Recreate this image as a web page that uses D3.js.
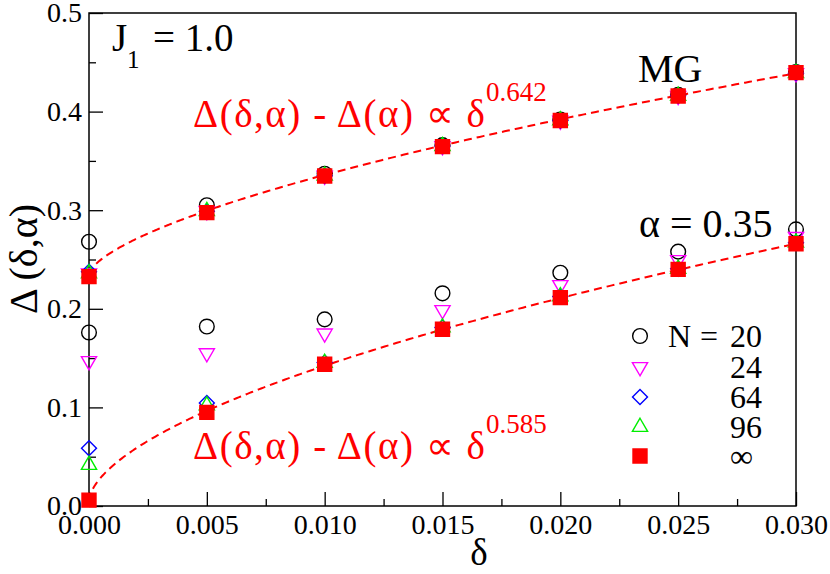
<!DOCTYPE html>
<html>
<head>
<meta charset="utf-8">
<script src="https://cdn.jsdelivr.net/npm/d3@7"></script>
</head>
<body style="margin:0; background:#fff">
<div class="chart-box"></div>
<script>
// delta values on the x axis
var deltas = [0, 0.005, 0.010, 0.015, 0.020, 0.025, 0.030];

// MG point, gap for each system size
var mg_n20  = [0.268, 0.305, 0.337, 0.366, 0.392, 0.417, 0.440];
var mg_n24  = [0.236, 0.299, 0.335, 0.365, 0.391, 0.416, 0.439];
var mg_n64  = [0.2376, 0.299, 0.335, 0.365, 0.391, 0.416, 0.439];
var mg_n96  = [0.236, 0.299, 0.335, 0.365, 0.391, 0.416, 0.439];
var mg_inf  = [0.2326, 0.2975, 0.3347, 0.3645, 0.391, 0.4158, 0.4395];

// alpha = 0.35, gap for each system size
var a35_n20 = [0.176, 0.182, 0.1893, 0.2157, 0.2366, 0.258, 0.2806];
var a35_n24 = [0.147, 0.155, 0.175, 0.1988, 0.2241, 0.2495, 0.273];
var a35_n64 = [0.0585, 0.1045, 0.1455, 0.181, 0.2125, 0.2405, 0.267];
var a35_n96 = [0.0416, 0.102, 0.145, 0.181, 0.2125, 0.2405, 0.267];
var a35_inf = [0.006, 0.095, 0.1437, 0.1792, 0.2113, 0.240, 0.266];

// fit parameters: delta0 + amp * d^expo
var fit_mg  = {delta0: 0.235, amp: 1.937, expo: 0.642};
var fit_a35 = {delta0: 0.005, amp: 2.03, expo: 0.585};

var legend_labels = ['20', '24', '64', '96', '\u221e'];
var x_ticks = [0, 0.005, 0.010, 0.015, 0.020, 0.025, 0.030];
var y_ticks = [0, 0.1, 0.2, 0.3, 0.4, 0.5];

var FONT = "'Liberation Serif'";

var width = 830,
    height = 574,
    margin = {top: 13, right: 34, bottom: 68, left: 89};

var svg = d3.select('.chart-box').append('svg')
    .attr('width', width)
    .attr('height', height);

var x = d3.scaleLinear().domain([0, 0.030]).range([margin.left, width - margin.right]);
var y = d3.scaleLinear().domain([0, 0.5]).range([height - margin.bottom, margin.top]);

var series_styles = [
  {type: d3.symbolCircle,   size: 170, rot: 0,   stroke: '#000', fill: 'none'},
  {type: d3.symbolTriangle, size: 100, rot: 180, stroke: '#ff00ff', fill: 'none'},
  {type: d3.symbolSquare,   size: 112, rot: 45,  stroke: '#0000ff', fill: 'none'},
  {type: d3.symbolTriangle, size: 100, rot: 0,   stroke: '#00ee00', fill: 'none'},
  {type: d3.symbolSquare,   size: 196, rot: 0,   stroke: '#ff0000', fill: '#ff0000'}
];

var groups = [
  [mg_n20, mg_n24, mg_n64, mg_n96, mg_inf],
  [a35_n20, a35_n24, a35_n64, a35_n96, a35_inf]
];

function add_text(px, py, size, str) {
  return svg.append('text').attr('x', px).attr('y', py)
    .style('font-family', FONT).style('font-size', size + 'px')
    .text(str);
}

// axes, ticks pointing inward
var x_axis = d3.axisBottom(x).tickValues(x_ticks)
    .tickFormat(d3.format('.3f')).tickSizeInner(-14).tickSizeOuter(0).tickPadding(8);
var x_minor = d3.axisBottom(x).tickValues(x_ticks.slice(0, -1).map(function(d) { return d + 0.0025; }))
    .tickFormat('').tickSizeInner(-7).tickSizeOuter(0);
var y_axis = d3.axisLeft(y).tickValues(y_ticks)
    .tickFormat(d3.format('.1f')).tickSizeInner(-14).tickSizeOuter(0).tickPadding(7);
var y_minor = d3.axisLeft(y).tickValues(y_ticks.slice(0, -1).map(function(d) { return d + 0.05; }))
    .tickFormat('').tickSizeInner(-7).tickSizeOuter(0);

function style_axis(g) {
  g.select('.domain').remove();
  g.selectAll('line').attr('stroke', '#000').attr('stroke-width', 1.3);
  g.selectAll('text').attr('fill', '#000')
    .style('font-family', FONT).style('font-size', '28px');
}

svg.append('g').attr('transform', 'translate(0,' + y(0) + ')').call(x_axis).call(style_axis);
svg.append('g').attr('transform', 'translate(0,' + y(0) + ')').call(x_minor).call(style_axis);
svg.append('g').attr('transform', 'translate(' + x(0) + ',0)').call(y_axis).call(style_axis);
svg.append('g').attr('transform', 'translate(' + x(0) + ',0)').call(y_minor).call(style_axis);

svg.append('rect')
    .attr('x', x(0)).attr('y', y(0.5))
    .attr('width', x(0.030) - x(0)).attr('height', y(0) - y(0.5))
    .attr('fill', 'none').attr('stroke', '#000').attr('stroke-width', 1.5);

// fit curves
function fit_points(p) {
  var pts = [];
  for (var i = 0; i <= 300; i++) {
    var d = 0.030 * Math.pow(i / 300, 2);
    pts.push([d, p.delta0 + p.amp * Math.pow(d, p.expo)]);
  }
  return pts;
}

var line = d3.line()
    .x(function(d) { return x(d[0]); })
    .y(function(d) { return y(d[1]); });

[fit_mg, fit_a35].forEach(function(p) {
  svg.append('path')
    .attr('d', line(fit_points(p)))
    .attr('fill', 'none')
    .attr('stroke', '#ff0000')
    .attr('stroke-width', 2)
    .attr('stroke-dasharray', '8,5');
});

// data points
function sym_path(s) {
  return d3.symbol().type(s.type).size(s.size)();
}

series_styles.forEach(function(s, k) {
  groups.forEach(function(grp) {
    svg.append('g').selectAll('path')
      .data(grp[k])
      .enter().append('path')
      .attr('d', sym_path(s))
      .attr('transform', function(d, i) {
        return 'translate(' + x(deltas[i]) + ',' + y(d) + ') rotate(' + s.rot + ')';
      })
      .attr('fill', s.fill)
      .attr('stroke', s.stroke)
      .attr('stroke-width', 1.4);
  });
});

// legend
var leg_y = [336, 367, 397, 427, 456];
legend_labels.forEach(function(lab, i) {
  var s = series_styles[i];
  svg.append('path')
    .attr('d', sym_path(s))
    .attr('transform', 'translate(640,' + leg_y[i] + ') rotate(' + s.rot + ')')
    .attr('fill', s.fill)
    .attr('stroke', s.stroke)
    .attr('stroke-width', 1.4);
  add_text(730, leg_y[i] + 11, 32, lab);
});
add_text(668, leg_y[0] + 11, 32, 'N');
add_text(700, leg_y[0] + 11, 32, '=');

// annotations
add_text(112, 51, 39, 'J');
add_text(127, 68, 25, '1');
add_text(153, 51, 39, '= 1.0');

add_text(638, 82, 40, 'MG');
add_text(639, 237, 40, '\u03b1 = 0.35');

function fit_label(px, py, expo) {
  add_text(px, py, 39, '\u0394(\u03b4,\u03b1) - \u0394(\u03b1) \u221d \u03b4')
    .attr('fill', '#ff0000')
    .attr('textLength', 292)
    .attr('lengthAdjust', 'spacing');
  add_text(px + 293, py - 26, 27, expo).attr('fill', '#ff0000');
}
fit_label(193, 127, '0.642');
fit_label(193, 459, '0.585');

// axis titles
add_text(479, 565, 37, '\u03b4').attr('text-anchor', 'middle');
add_text(0, 0, 40, '\u0394 (\u03b4,\u03b1)')
    .attr('x', null).attr('y', null)
    .attr('transform', 'translate(37,259) rotate(-90)')
    .attr('text-anchor', 'middle');
</script>
</body>
</html>
